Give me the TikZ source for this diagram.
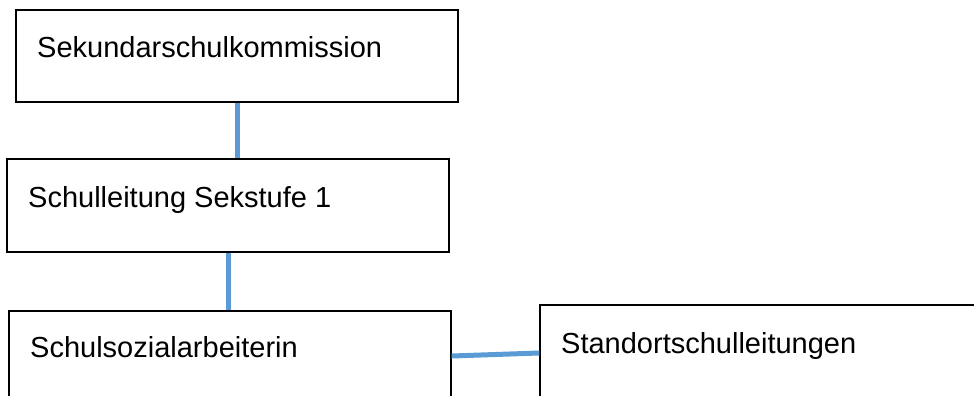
\documentclass[tikz,border=0pt]{standalone}
\usepackage{fontspec}
\setmainfont{Liberation Sans}
\definecolor{connblue}{RGB}{91,155,213}
\begin{document}
\begin{tikzpicture}[x=1pt,y=-1pt,
  box/.style={draw=black,line width=1.3pt,rectangle,inner sep=0pt},
  lbl/.style={anchor=base west,inner sep=0pt,font=\fontsize{29}{34}\selectfont},
  conn/.style={draw=connblue,line width=5pt}]
\useasboundingbox (0,0) rectangle (974,396);
\clip (0,0) rectangle (974,396);
\node[box,minimum width=442pt,minimum height=92pt] (b1) at (237,56) {};
\node[box,minimum width=442pt,minimum height=93pt] (b2) at (228,205.5) {};
\node[box,minimum width=442pt,minimum height=93pt] (b3) at (230,357.5) {};
\node[box,minimum width=440pt,minimum height=93pt] (b4) at (760,351.5) {};
\node[lbl] (t1) at (37,57) {Sekundarschulkommission};
\node[lbl] (t2) at (28,207) {Schulleitung Sekstufe 1};
\node[lbl] (t3) at (30,357) {Schulsozialarbeiterin};
\node[lbl] (t4) at (561,353) {Standortschulleitungen};
\draw[conn] (b1.south) -- (b1.south |- b2.north);
\draw[conn] (b2.south) -- (b2.south |- b3.north);
\draw[conn] ([yshift=1.5pt]b3.east) -- ([yshift=-1.5pt]b4.west);
\end{tikzpicture}
\end{document}
